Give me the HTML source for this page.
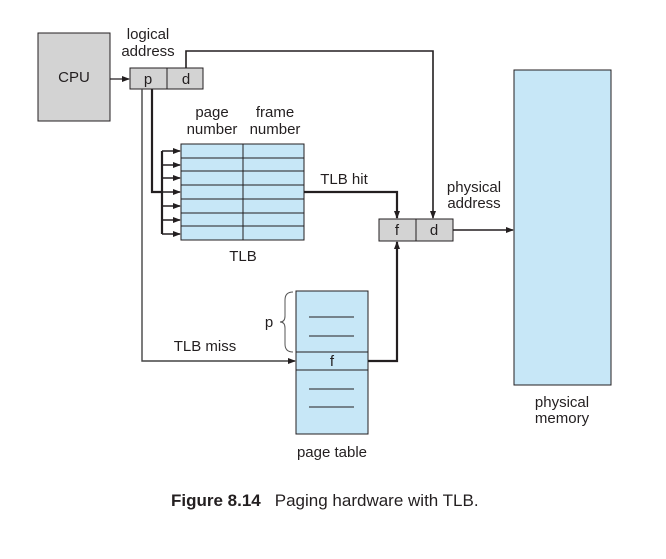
<!DOCTYPE html>
<html><head><meta charset="utf-8"><style>
html,body{margin:0;padding:0;background:#fff;}
svg{display:block;font-family:"Liberation Sans",sans-serif;}
</style></head><body>
<svg width="666" height="559" viewBox="0 0 666 559" xmlns="http://www.w3.org/2000/svg">
<defs>
<marker id="a" markerWidth="8" markerHeight="8" refX="7" refY="4" orient="auto" markerUnits="userSpaceOnUse">
<path d="M0,1 L8,4 L0,7 Z" fill="#231f20"/></marker>
</defs>
<g fill="#231f20" font-size="15" text-anchor="middle">
<rect x="38" y="33" width="72" height="88" fill="#d3d3d3" stroke="#231f20"/>
<text x="74" y="82">CPU</text>
<line x1="110" y1="79" x2="129" y2="79" stroke="#231f20" stroke-width="1.3" marker-end="url(#a)"/>
<text x="148" y="39">logical</text>
<text x="148" y="56">address</text>
<rect x="130" y="68" width="73" height="21" fill="#d3d3d3" stroke="#231f20"/>
<line x1="167" y1="68" x2="167" y2="89" stroke="#231f20"/>
<text x="148" y="84">p</text>
<text x="186" y="84">d</text>
<polyline points="186,68 186,51 433,51 433,218" fill="none" stroke="#231f20" stroke-width="1.6" marker-end="url(#a)"/>
<polyline points="142,89 142,361 295,361" fill="none" stroke="#444" stroke-width="1.4" marker-end="url(#a)"/>
<text x="205" y="351">TLB miss</text>
<polyline points="152,89 152,192 162,192" fill="none" stroke="#231f20" stroke-width="2.2"/>
<line x1="162" y1="151" x2="162" y2="234" stroke="#231f20" stroke-width="2.2"/>
<g stroke="#231f20" stroke-width="1.4">
<line x1="162" y1="151" x2="180" y2="151" marker-end="url(#a)"/>
<line x1="162" y1="165" x2="180" y2="165" marker-end="url(#a)"/>
<line x1="162" y1="178" x2="180" y2="178" marker-end="url(#a)"/>
<line x1="162" y1="192" x2="180" y2="192" marker-end="url(#a)"/>
<line x1="162" y1="206" x2="180" y2="206" marker-end="url(#a)"/>
<line x1="162" y1="220" x2="180" y2="220" marker-end="url(#a)"/>
<line x1="162" y1="234" x2="180" y2="234" marker-end="url(#a)"/>
</g>
<text x="212" y="117">page</text>
<text x="212" y="134">number</text>
<text x="275" y="117">frame</text>
<text x="275" y="134">number</text>
<rect x="181" y="144" width="123" height="96" fill="#c7e7f7" stroke="#231f20"/>
<line x1="243" y1="144" x2="243" y2="240" stroke="#231f20"/>
<g stroke="#231f20">
<line x1="181" y1="158" x2="304" y2="158"/>
<line x1="181" y1="171" x2="304" y2="171"/>
<line x1="181" y1="185" x2="304" y2="185"/>
<line x1="181" y1="199" x2="304" y2="199"/>
<line x1="181" y1="213" x2="304" y2="213"/>
<line x1="181" y1="226" x2="304" y2="226"/>
</g>
<text x="243" y="261">TLB</text>
<polyline points="304,192 397,192 397,218" fill="none" stroke="#231f20" stroke-width="2.2" marker-end="url(#a)"/>
<text x="344" y="184">TLB hit</text>
<rect x="379" y="219" width="74" height="22" fill="#d3d3d3" stroke="#231f20"/>
<line x1="416" y1="219" x2="416" y2="241" stroke="#231f20"/>
<text x="397" y="235">f</text>
<text x="434" y="235">d</text>
<text x="474" y="192">physical</text>
<text x="474" y="208">address</text>
<line x1="453" y1="230" x2="513" y2="230" stroke="#231f20" stroke-width="1.4" marker-end="url(#a)"/>
<rect x="514" y="70" width="97" height="315" fill="#c7e7f7" stroke="#231f20"/>
<text x="562" y="407">physical</text>
<text x="562" y="423">memory</text>
<rect x="296" y="291" width="72" height="143" fill="#c7e7f7" stroke="#231f20"/>
<line x1="296" y1="352" x2="368" y2="352" stroke="#231f20"/>
<line x1="296" y1="370" x2="368" y2="370" stroke="#231f20"/>
<text x="332" y="366">f</text>
<g stroke="#231f20">
<line x1="309" y1="317" x2="354" y2="317"/>
<line x1="309" y1="336" x2="354" y2="336"/>
<line x1="309" y1="389" x2="354" y2="389"/>
<line x1="309" y1="407" x2="354" y2="407"/>
</g>
<text x="332" y="457">page table</text>
<path d="M293,292 Q285,292 285,300 L285,316 Q285,322 280,322 Q285,322 285,328 L285,344 Q285,352 293,352" fill="none" stroke="#555" stroke-width="1"/>
<text x="269" y="327">p</text>
<polyline points="368,361 397,361 397,242" fill="none" stroke="#231f20" stroke-width="2.2" marker-end="url(#a)"/>
<text x="171" y="506" text-anchor="start" font-size="17"><tspan font-weight="bold">Figure 8.14</tspan><tspan dx="14">Paging hardware with TLB.</tspan></text>
</g>
</svg>
</body></html>
